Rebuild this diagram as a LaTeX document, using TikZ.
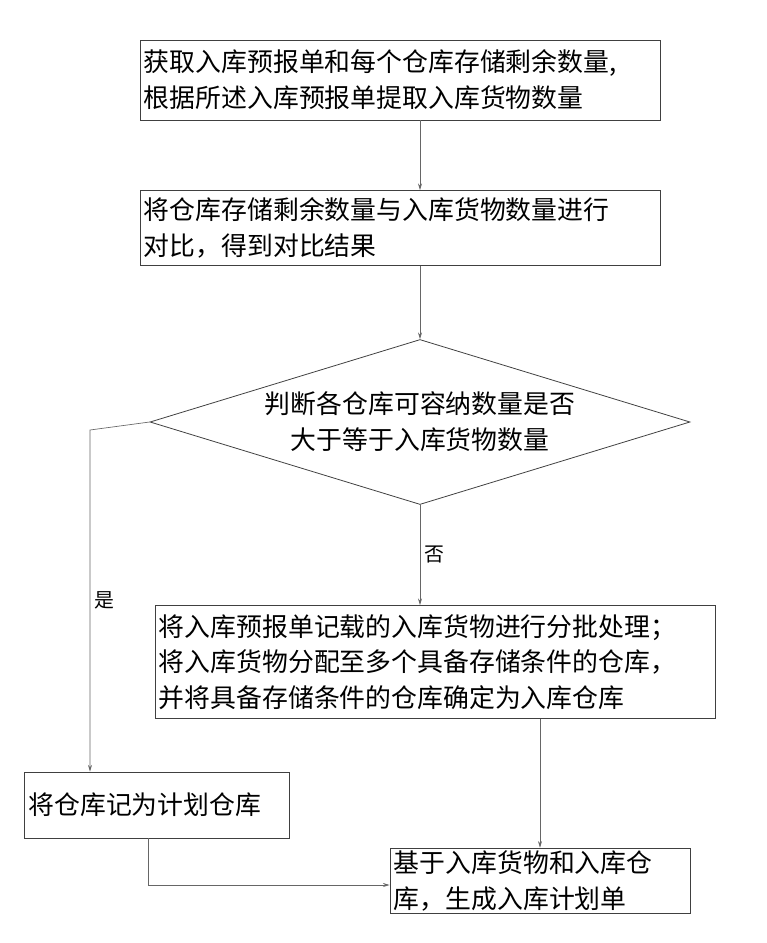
\documentclass[tikz,border=0pt]{standalone}
\usepackage{fontspec}
\setmainfont{Noto Sans CJK SC}
\usetikzlibrary{shapes.geometric,arrows.meta}
\tikzset{
  stepbox/.style={draw=black!75, line width=0.6pt, align=left, inner xsep=3pt, inner ysep=2pt, font=\fontsize{19.5}{27}\selectfont},
  flow/.style={draw=black!60, line width=0.5pt, -{Stealth[length=5pt,width=3pt]}}
}
\begin{document}
\begin{tikzpicture}[x=0.0265cm, y=-0.0265cm]
\useasboundingbox (0,0) rectangle (766,943);
\node[stepbox, text width=520*0.0265cm-6pt, minimum height=80*0.0265cm] (get) at (400,80) {获取入库预报单和每个仓库存储剩余数量,\\根据所述入库预报单提取入库货物数量};
\node[stepbox, text width=520*0.0265cm-6pt, minimum height=75*0.0265cm] (cmp) at (400,228) {将仓库存储剩余数量与入库货物数量进行\\对比，得到对比结果};
\node[diamond, draw=black!75, line width=0.6pt, aspect=3.27, inner sep=1pt, minimum width=540*0.0265cm, minimum height=165*0.0265cm, align=center, font=\fontsize{19.5}{27}\selectfont] (judge) at (420,422) {判断各仓库可容纳数量是否\\大于等于入库货物数量};
\node[stepbox, text width=560*0.0265cm-6pt, minimum height=113*0.0265cm] (split) at (435,662) {将入库预报单记载的入库货物进行分批处理；\\将入库货物分配至多个具备存储条件的仓库，\\并将具备存储条件的仓库确定为入库仓库};
\node[stepbox, text width=265*0.0265cm-6pt, minimum height=66*0.0265cm] (plan) at (157,805) {将仓库记为计划仓库};
\node[stepbox, text width=300*0.0265cm-6pt, minimum height=62*0.0265cm] (make) at (540,881) {基于入库货物和入库仓\\库，生成入库计划单};
\draw[flow] (get.south -| 420,0) -- (cmp.north -| 420,0);
\draw[flow] (cmp.south -| 420,0) -- (judge.north);
\draw[flow] (judge.south) -- node[pos=0.5, right, font=\fontsize{15}{16}\selectfont] {否} (split.north -| 420,0);
\draw[flow] (judge.west) -- (90,430) -- node[pos=0.5, right, font=\fontsize{15}{16}\selectfont] {是} (plan.north -| 90,0);
\draw[flow] (split.south -| 540,0) -- (make.north -| 540,0);
\draw[flow] (plan.south -| 148,0) -- (148,885) -- (make.west |- 0,885);
\end{tikzpicture}
\end{document}
